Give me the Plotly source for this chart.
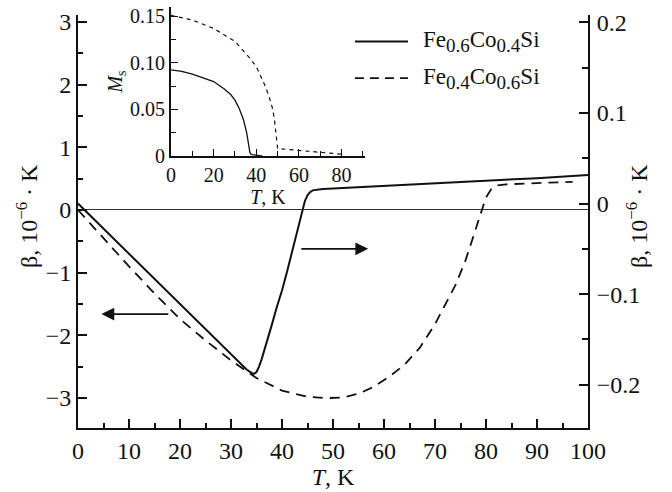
import plotly.graph_objects as go

# ---- main panel data ----
# Fe0.6Co0.4Si (right axis, beta in 1e-6 K)
T_a = [0, 5, 10, 15, 20, 25, 30, 33, 34, 34.5, 35, 35.5, 36, 37, 38, 39, 40, 41, 42, 43,
       43.5, 44, 44.5, 45, 45.5, 46, 47, 48, 50, 55, 60, 70, 80, 90, 100]
beta_a = [0.0, -0.0278, -0.0555, -0.083, -0.111, -0.139, -0.1665, -0.183, -0.187, -0.188,
          -0.186, -0.180, -0.172, -0.154, -0.134, -0.114, -0.096, -0.075, -0.053, -0.031,
          -0.018, -0.006, 0.003, 0.009, 0.0125, 0.0145, 0.0155, 0.016, 0.0166, 0.018,
          0.0195, 0.0225, 0.025, 0.028, 0.0315]

# Fe0.4Co0.6Si (left axis)
T_b = [0, 5, 10, 15, 20, 25, 30, 35, 40, 45, 49, 52, 55, 58, 61, 64, 67, 70, 72, 74, 76,
       78, 79, 80, 81, 82, 84, 90, 97]
beta_b = [0.0, -0.45, -0.90, -1.33, -1.74, -2.08, -2.40, -2.68, -2.88, -2.98, -3.00, -2.99,
          -2.93, -2.82, -2.66, -2.47, -2.20, -1.82, -1.52, -1.20, -0.80, -0.30, -0.02, 0.20,
          0.33, 0.39, 0.41, 0.43, 0.45]

# ---- inset data (Ms vs T) ----
Ti_a = [0, 5, 10, 15, 20, 25, 28, 30, 32, 34, 35, 35.5, 36, 36.5, 37, 37.5, 38, 40, 43]
Ms_a = [0.0925, 0.091, 0.088, 0.084, 0.080, 0.072, 0.066, 0.060, 0.051, 0.039, 0.031, 0.025,
        0.018, 0.010, 0.004, 0.002, 0.0015, 0.001, 0.0]
Ti_b = [0, 10, 20, 30, 37, 40, 44, 46, 47.5, 48.5, 49.2, 49.7, 50, 55, 60, 70, 80]
Ms_b = [0.151, 0.146, 0.137, 0.123, 0.105, 0.096, 0.076, 0.064, 0.052, 0.040, 0.025, 0.010,
        0.008, 0.007, 0.006, 0.004, 0.002]

x_ticks_main = [0, 10, 20, 30, 40, 50, 60, 70, 80, 90, 100]
inset_y_vals = [0, 0.05, 0.10, 0.15]
inset_y_text = ["0", "0.05", "0.10", "0.15"]

SUB = "<sub><span style='font-size:19px'>{}</span></sub>"
name_a = "Fe" + SUB.format("0.6") + "Co" + SUB.format("0.4") + "Si"
name_b = "Fe" + SUB.format("0.4") + "Co" + SUB.format("0.6") + "Si"
ytitle = "β, 10<sup>−6</sup> · K"

FONT = "Liberation Serif"
BLACK = "#111111"

fig = go.Figure()
fig.add_trace(go.Scatter(x=T_b, y=beta_b, mode="lines", name="Fe0.4Co0.6Si", showlegend=False,
                         line=dict(color=BLACK, width=1.8, dash="10px,7px")))
fig.add_trace(go.Scatter(x=T_a, y=beta_a, mode="lines", name="Fe0.6Co0.4Si", yaxis="y2",
                         showlegend=False, line=dict(color=BLACK, width=2)))
fig.add_trace(go.Scatter(x=Ti_a, y=Ms_a, mode="lines", xaxis="x3", yaxis="y3",
                         showlegend=False, line=dict(color=BLACK, width=1.3)))
fig.add_trace(go.Scatter(x=Ti_b, y=Ms_b, mode="lines", xaxis="x3", yaxis="y3",
                         showlegend=False, line=dict(color=BLACK, width=1.2, dash="4px,4px")))

tick_font = dict(family=FONT, size=24, color=BLACK)
axis_common = dict(showline=True, linecolor=BLACK, linewidth=2, ticks="inside", automargin=False,
                   tickcolor=BLACK, tickwidth=1.5, showgrid=False, tickfont=tick_font)
inset_common = dict(showline=True, linecolor=BLACK, linewidth=1.8, ticks="inside", automargin=False,
                    tickcolor=BLACK, tickwidth=1.3, showgrid=False,
                    tickfont=dict(family=FONT, size=20, color=BLACK))

fig.update_layout(
    width=672, height=492,
    margin=dict(l=78, r=84, t=7, b=64, autoexpand=False),
    paper_bgcolor="white", plot_bgcolor="rgba(0,0,0,0)",
    font=dict(family=FONT, color=BLACK),
    xaxis=dict(domain=[0, 1], range=[0, 100], tickmode="array", tickvals=x_ticks_main,
               ticklen=9, zeroline=False, anchor="y",
               minor=dict(dtick=5, tick0=0, ticklen=5, ticks="inside", tickwidth=1.5, tickcolor=BLACK),
               title=dict(text="<i>T</i>, K", font=dict(family=FONT, size=24), standoff=2),
               **axis_common),
    yaxis=dict(domain=[0, 0.981], range=[-3.477, 3.11], dtick=1, tick0=0, ticklen=9,
               ticklabelstandoff=0,
               zeroline=True, zerolinecolor="#333333", zerolinewidth=1, anchor="x",
               minor=dict(dtick=0.5, tick0=0, ticklen=5, ticks="inside", tickwidth=1.5, tickcolor=BLACK),
               **axis_common),
    yaxis2=dict(overlaying="y", side="right", anchor="x", range=[-0.2478, 0.2081], dtick=0.1,
                tick0=0, ticklen=9, zeroline=False, ticklabelstandoff=2,
                minor=dict(dtick=0.05, tick0=0, ticklen=6, ticks="inside", tickwidth=1.5, tickcolor=BLACK),
                **axis_common),
    xaxis3=dict(domain=[0.1824, 0.5627], range=[0, 91], anchor="y3", dtick=20, tick0=0,
                ticklen=7, zeroline=False,
                minor=dict(dtick=10, tick0=0, ticklen=5, ticks="inside", tickwidth=1.3, tickcolor=BLACK),
                title=dict(text="<i>T</i>, K", font=dict(family=FONT, size=20), standoff=0),
                **inset_common),
    yaxis3=dict(domain=[0.646, 1], range=[0, 0.16], anchor="x3", tickmode="array",
                tickvals=inset_y_vals, ticktext=inset_y_text, ticklen=7, zeroline=False,
                minor=dict(tickmode="array", tickvals=[0.025, 0.075, 0.125], ticklen=5,
                           ticks="inside", tickwidth=1.3, tickcolor=BLACK),
                title=dict(text="<i>M</i><sub>s</sub>", font=dict(family=FONT, size=20), standoff=2),
                **inset_common),
)

# y-axis titles (left and right), placed as rotated texts
for xp in [-0.100, 1.096]:
    fig.add_annotation(xref="paper", yref="paper", x=xp, y=0.5036, text=ytitle, showarrow=False,
                       textangle=-90, xanchor="center", yanchor="middle",
                       font=dict(family=FONT, size=24, color=BLACK))

# legend drawn by hand (line samples + labels)
leg_x0, leg_x1, leg_tx = 0.543, 0.647, 0.672
leg_y = [0.918, 0.831]
fig.add_shape(type="line", xref="paper", yref="paper", x0=leg_x0, x1=leg_x1,
              y0=leg_y[0], y1=leg_y[0], line=dict(color=BLACK, width=2))
fig.add_shape(type="line", xref="paper", yref="paper", x0=leg_x0, x1=leg_x1,
              y0=leg_y[1], y1=leg_y[1], line=dict(color=BLACK, width=1.8, dash="9px,6px"))
for yy, txt in zip(leg_y, [name_a, name_b]):
    fig.add_annotation(xref="paper", yref="paper", x=leg_tx, y=yy, text=txt, showarrow=False,
                       xanchor="left", yanchor="middle", font=dict(family=FONT, size=23, color=BLACK))

# arrows indicating which axis each curve belongs to
fig.add_annotation(x=4.6, y=-1.66, ax=18, ay=-1.66, xref="x", yref="y", axref="x", ayref="y",
                   showarrow=True, arrowhead=2, arrowsize=1.6, arrowwidth=1.6, arrowcolor=BLACK, text="")
fig.add_annotation(x=56.9, y=-0.62, ax=43.5, ay=-0.62, xref="x", yref="y", axref="x", ayref="y",
                   showarrow=True, arrowhead=2, arrowsize=1.6, arrowwidth=1.6, arrowcolor=BLACK, text="")

fig.write_html("out.html", config={"displayModeBar": False},
               post_script="document.body.style.margin='0';document.body.style.overflow='hidden';")
